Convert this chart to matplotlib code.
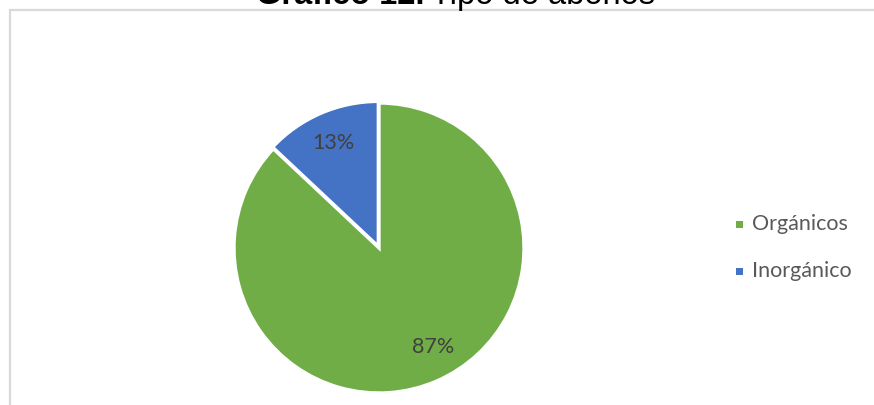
import matplotlib
matplotlib.use('Agg')
import matplotlib.pyplot as plt
from matplotlib.patches import Rectangle

# datos del grafico
categorias = ['Orgánicos', 'Inorgánico']
porcentajes = [87, 13]
colores = ['#70AD47', '#4472C4']
titulo_negrita = 'Gráfico 12.'
titulo = 'Tipo de abonos'

W, H = 874, 405
fig = plt.figure(figsize=(W / 100, H / 100), dpi=100)

def fx(px):
    return px / W

def fy(py):
    return 1 - py / H

# marco del grafico
fig.add_artist(Rectangle((fx(10), fy(H + 20)), fx(W + 20), fy(10) - fy(H + 20),
                         transform=fig.transFigure, fill=False,
                         edgecolor='#D9D9D9', linewidth=1.6))

# titulo (parte en negrita + parte normal)
fig.text(fx(424), fy(4), titulo_negrita, ha='right', va='baseline',
         fontsize=23.5, fontweight='bold', family='Liberation Sans', color='black')
fig.text(fx(431), fy(4), titulo, ha='left', va='baseline',
         fontsize=23.5, family='Liberation Sans', color='black')

# pastel
cx, cy, r = 379, 248, 145
ax = fig.add_axes([fx(cx - r), fy(cy + r), fx(2 * r), fy(cy - r) - fy(cy + r)])
wedges, textos, autotextos = ax.pie(
    porcentajes, colors=colores, startangle=90, counterclock=False,
    explode=[0, 0.012], autopct='%1.0f%%', pctdistance=0.78, radius=1,
    wedgeprops=dict(edgecolor='white', linewidth=2.4),
    textprops=dict(fontsize=15.5, family='Lato', color='#404040'))
# la etiqueta del 87% queda un poco mas a la derecha
autotextos[0].set_position((0.37, -0.68))
ax.set_xlim(-1, 1)
ax.set_ylim(-1, 1)
ax.set_aspect('equal')
ax.axis('off')

# leyenda
for i, (cat, col) in enumerate(zip(categorias, colores)):
    y = 224 + i * 47
    fig.add_artist(Rectangle((fx(735.5), fy(y + 3.5)), fx(7), fy(y - 3.5) - fy(y + 3.5),
                             transform=fig.transFigure, facecolor=col, edgecolor='none'))
    fig.text(fx(752), fy(y), cat, ha='left', va='center',
             fontsize=15.5, family='Lato', color='#595959')

fig.savefig('out.png', dpi=100)
